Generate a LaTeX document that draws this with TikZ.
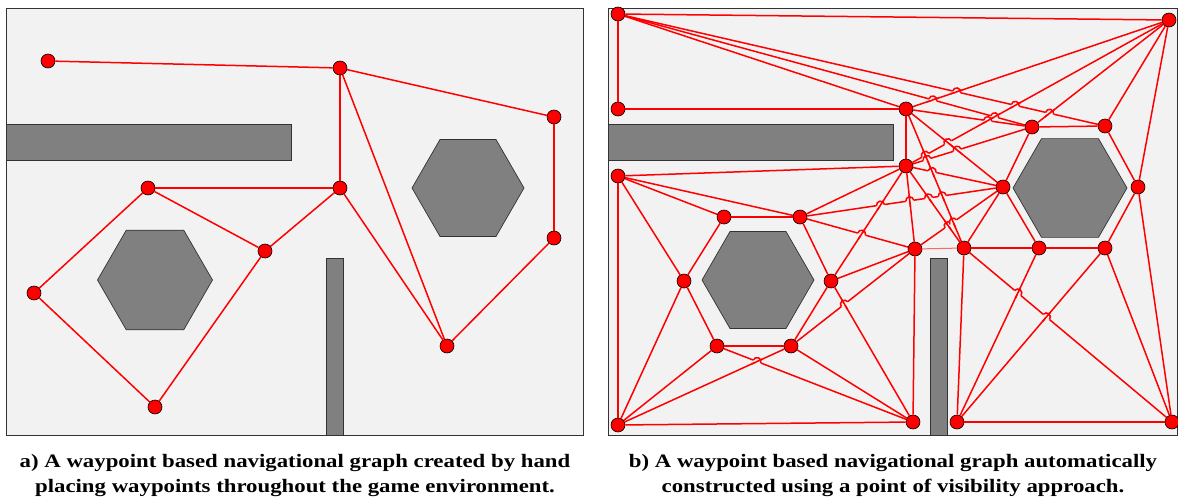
\documentclass[tikz,border=0pt]{standalone}
\usepackage{fontspec}
\setmainfont{Liberation Serif}
\newfontfamily\capfont[FakeStretch=1.2]{Liberation Serif}
\usetikzlibrary{positioning, calc, intersections}

\tikzset{
  wp/.style={circle, draw=black, fill=red, line width=0.6pt,
    inner sep=0pt, minimum size=14pt},
  link/.style={draw=red, line width=1.5pt},
  faint link/.style={draw=red!60, line width=1pt},
  gap/.style={draw=black!5, line width=2.8pt},
  room/.style={draw=black!80, fill=black!5, line width=1pt},
  block/.style={draw=black!80, fill=black!50, line width=0.7pt},
  caption/.style={font=\capfont\fontsize{19}{25}\selectfont\bfseries,
    align=center}
}

% line (#1)--(#2) jumps over line (#3)--(#4)
\newcommand\linehop[4]{%
  \path[name path=hopA] (#1) -- (#2);
  \path[name path=hopB] (#3) -- (#4);
  \path[name intersections={of=hopA and hopB, by=hx}];
  \draw[gap] ($(hx)!4pt!(#1)$) -- ($(hx)!4pt!(#2)$);
  \draw[link] ($(hx)!6pt!(#3)$) -- ($(hx)!6pt!(#4)$);
  \draw[link] let \p1=($(#2)-(#1)$), \n1={atan2(\y1,\x1)} in
    ($(hx)!4pt!(#1)$) arc[start angle=\n1+180, delta angle=-180, radius=4pt];
}

\begin{document}
\begin{tikzpicture}[x=1pt, y=-1pt]
\useasboundingbox (0,0) rectangle (1178,498);

% panel a
\draw[room] (6,8) rectangle (583,435);
\draw[block] (6,124) rectangle (291,160);
\draw[block] (326,258) rectangle (343,435);
\draw[block] (155,280) +(0:57.5) -- +(60:57.5) -- +(120:57.5)
  -- +(180:57.5) -- +(240:57.5) -- +(300:57.5) -- cycle;
\draw[block] (468,188) +(0:56) -- +(60:56) -- +(120:56)
  -- +(180:56) -- +(240:56) -- +(300:56) -- cycle;

\node[wp] (a1) at (48,61) {};
\node[wp] (a2) at (340,68) {};
\node[wp] (a3) at (554,117) {};
\node[wp] (a4) at (340,188) {};
\node[wp] (a5) at (148,188) {};
\node[wp] (a6) at (265,251) {};
\node[wp] (a7) at (554,238) {};
\node[wp] (a8) at (34,293) {};
\node[wp] (a9) at (155,407) {};
\node[wp] (a10) at (447,346) {};

\draw[link]
    (a1) edge (a2)
    (a2) edge (a3)
    (a2) edge (a4)
    (a2) edge (a10)
    (a3) edge (a7)
    (a7) edge (a10)
    (a4) edge (a10)
    (a4) edge (a5)
    (a4) edge (a6)
    (a5) edge (a6)
    (a5) edge (a8)
    (a8) edge (a9)
    (a9) edge (a6);

\node[caption] (capa) at (295,475)
    {a) A waypoint based navigational graph created by hand\\
     placing waypoints throughout the game environment.};

% panel b
\draw[room] (608,8) rectangle (1177,435);
\draw[block] (608,124) rectangle (893,160);
\draw[block] (930,258) rectangle (947,435);
\draw[block] (758,280) +(0:56) -- +(60:56) -- +(120:56)
  -- +(180:56) -- +(240:56) -- +(300:56) -- cycle;
\draw[block] (1070,188) +(0:57) -- +(60:57) -- +(120:57)
  -- +(180:57) -- +(240:57) -- +(300:57) -- cycle;

\node[wp] (b1) at (618,14) {};
\node[wp] (b2) at (1169,20) {};
\node[wp] (b3) at (618,109) {};
\node[wp] (b4) at (906,109) {};
\node[wp] (b5) at (1032,127) {};
\node[wp] (b6) at (1105,126) {};
\node[wp] (b7) at (618,176) {};
\node[wp] (b8) at (906,166) {};
\node[wp] (b9) at (1003,187) {};
\node[wp] (b10) at (1138,187) {};
\node[wp] (b11) at (724,217) {};
\node[wp] (b12) at (800,217) {};
\node[wp] (b13) at (915,249) {};
\node[wp] (b14) at (964,248) {};
\node[wp] (b15) at (1039,248) {};
\node[wp] (b16) at (1105,248) {};
\node[wp] (b17) at (684,281) {};
\node[wp] (b18) at (831,281) {};
\node[wp] (b19) at (717,346) {};
\node[wp] (b20) at (791,346) {};
\node[wp] (b21) at (618,425) {};
\node[wp] (b22) at (913,422) {};
\node[wp] (b23) at (957,422) {};
\node[wp] (b24) at (1172,422) {};

\draw[link]
    (b1) edge (b2) (b1) edge (b3) (b1) edge (b4) (b1) edge (b5) (b1) edge (b6)
    (b2) edge (b4) (b2) edge (b5) (b2) edge (b6) (b2) edge (b8) (b2) edge (b10)
    (b3) edge (b4)
    (b4) edge (b5) (b4) edge (b8) (b4) edge (b9) (b4) edge (b14)
    (b5) edge (b6) (b5) edge (b8) (b5) edge (b9)
    (b6) edge (b10)
    (b7) edge (b8) (b7) edge (b11) (b7) edge (b12) (b7) edge (b17) (b7) edge (b21)
    (b8) edge (b9) (b8) edge (b12) (b8) edge (b13) (b8) edge (b14) (b8) edge (b18)
    (b9) edge (b12) (b9) edge (b13) (b9) edge (b14) (b9) edge (b15)
    (b10) edge (b16) (b10) edge (b24)
    (b11) edge (b12) (b11) edge (b17)
    (b12) edge (b13) (b12) edge (b18)
    (b13) edge (b18) (b13) edge (b20) (b13) edge (b22)
    (b14) edge (b15) (b14) edge (b23) (b14) edge (b24)
    (b15) edge (b16) (b15) edge (b23)
    (b16) edge (b23) (b16) edge (b24)
    (b17) edge (b19) (b17) edge (b21)
    (b18) edge (b20) (b18) edge (b22)
    (b19) edge (b20) (b19) edge (b21) (b19) edge (b22)
    (b20) edge (b21) (b20) edge (b22)
    (b21) edge (b22)
    (b23) edge (b24);
\draw[faint link] (b13) -- (b14);

% line jumps
\linehop{b1}{b5}{b2}{b4}
\linehop{b1}{b6}{b2}{b4}
\linehop{b1}{b5}{b8}{b2}
\linehop{b1}{b6}{b8}{b2}
\linehop{b1}{b6}{b5}{b2}
\linehop{b4}{b5}{b8}{b2}
\linehop{b8}{b2}{b4}{b9}
\linehop{b8}{b2}{b4}{b14}
\linehop{b8}{b5}{b4}{b9}
\linehop{b8}{b5}{b4}{b14}
\linehop{b8}{b9}{b4}{b14}
\linehop{b12}{b9}{b8}{b18}
\linehop{b12}{b9}{b8}{b13}
\linehop{b12}{b9}{b8}{b14}
\linehop{b12}{b9}{b4}{b14}
\linehop{b12}{b13}{b8}{b18}
\linehop{b13}{b9}{b8}{b14}
\linehop{b13}{b9}{b4}{b14}
\linehop{b20}{b13}{b18}{b22}
\linehop{b19}{b22}{b21}{b20}
\linehop{b14}{b24}{b23}{b15}
\linehop{b14}{b24}{b23}{b16}

\node[caption] (capb) at (893,475)
    {b) A waypoint based navigational graph automatically\\
     constructed using a point of visibility approach.};
\end{tikzpicture}
\end{document}
